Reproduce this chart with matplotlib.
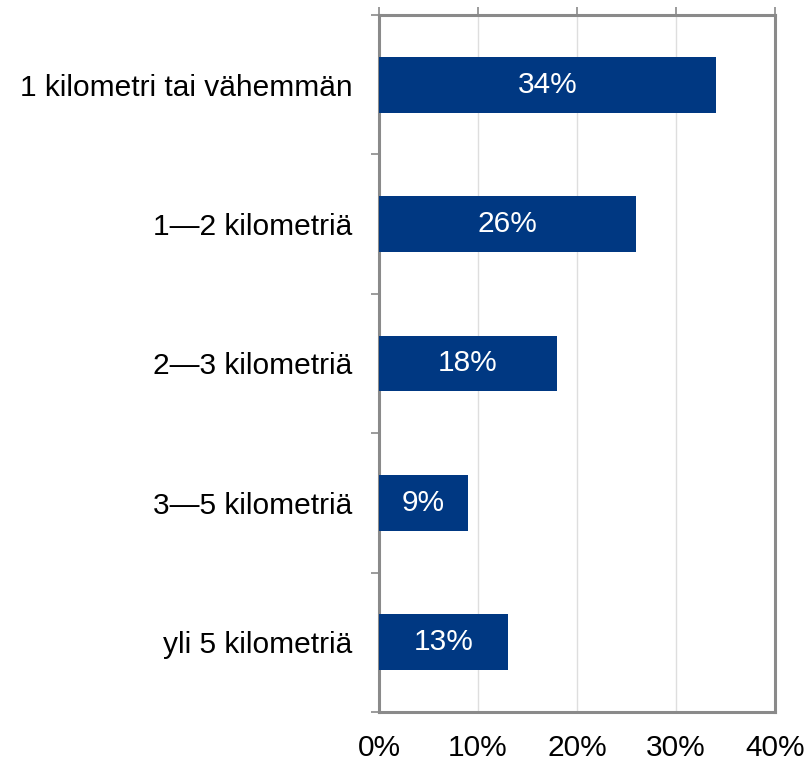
import matplotlib
matplotlib.use("Agg")
import matplotlib.pyplot as plt
import numpy as np

categories = ["1 kilometri tai vähemmän", "1—2 kilometriä", "2—3 kilometriä", "3—5 kilometriä", "yli 5 kilometriä"]
values = [34, 26, 18, 9, 13]
xticks = [0, 10, 20, 30, 40]
xticklabels = ["0%", "10%", "20%", "30%", "40%"]

plt.rcParams['font.family'] = ['Liberation Sans', 'DejaVu Sans']

fig = plt.figure(figsize=(8.08, 7.63), dpi=100)
ax = fig.add_axes([379/808, 1-712/763, (775-379)/808, (712-15)/763])

y = np.arange(len(categories))
bars = ax.barh(y, values, height=0.4, color="#003882", zorder=3)
for yi, v in zip(y, values):
    ax.text(v/2, yi, f"{v}%", color="white", ha="center", va="center", fontsize=21.5, zorder=4)

ax.set_xlim(0, 40)
ax.set_ylim(len(categories)-0.5, -0.5)
ax.set_xticks(xticks)
ax.set_xticklabels(xticklabels, fontsize=21.5)
ax.set_yticks(y)
ax.set_yticklabels(categories, fontsize=21.5)
ax.set_yticks(np.arange(-0.5, len(categories), 1), minor=True)

spine_c = "#8a8a8a"
for s in ax.spines.values():
    s.set_color(spine_c)
    s.set_linewidth(2.2)

ax.grid(axis="x", color="#dedede", linewidth=1, zorder=0)
ax.tick_params(axis="x", bottom=False, top=True, labelbottom=True, labeltop=False,
               direction="out", length=6, width=1.2, color=spine_c, pad=9.5)
ax.tick_params(axis="y", which="major", length=0, pad=19)
ax.tick_params(axis="y", which="minor", length=6, width=1.2, color=spine_c, direction="out")

fig.savefig("out.png", dpi=100)
